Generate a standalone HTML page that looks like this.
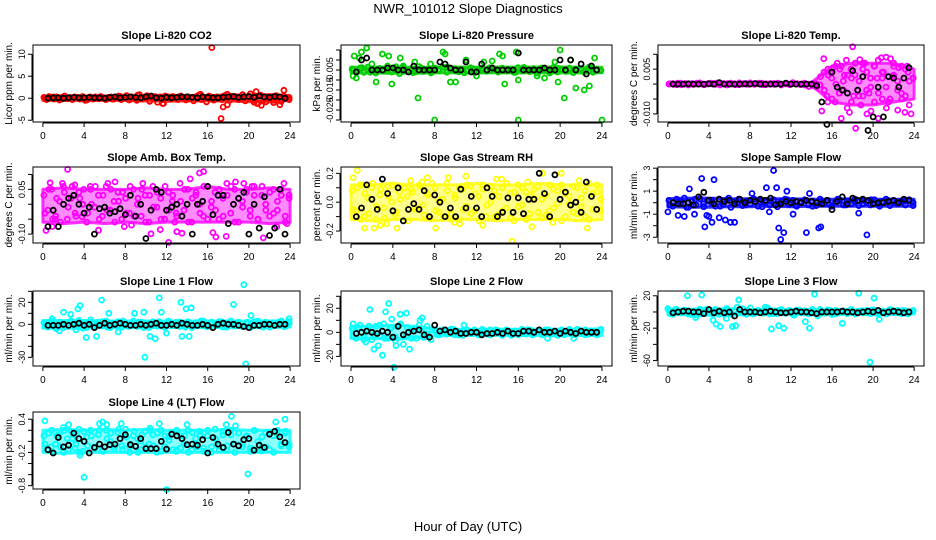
<!DOCTYPE html>
<html><head><meta charset="utf-8"><style>
html,body{margin:0;padding:0;background:#fff;}
svg{display:block;font-family:"Liberation Sans",Arial,sans-serif;}
</style></head><body>
<svg id="chart" width="936" height="540" viewBox="0 0 936 540">
<text x="468" y="13" text-anchor="middle" font-size="13">NWR_101012  Slope Diagnostics</text>
<text x="468" y="531" text-anchor="middle" font-size="13">Hour of Day (UTC)</text>
</svg>
<script>
// ---------- data ----------
const xTicks = [0,4,8,12,16,20,24];
const titles = ["Slope Li-820 CO2","Slope Li-820 Pressure","Slope Li-820 Temp.","Slope Amb. Box Temp.","Slope Gas Stream RH","Slope Sample Flow","Slope Line 1 Flow","Slope Line 2 Flow","Slope Line 3 Flow","Slope Line 4 (LT) Flow"];
const yTitles = ["Licor ppm per min.","kPa per min.","degrees C per min.","degrees C per min.","percent per min.","ml/min per min.","ml/min per min.","ml/min per min.","ml/min per min.","ml/min per min."];
const colors = ["#ff0000","#00cd00","#ff00ff","#ff00ff","#ffff00","#0000ff","#00ffff","#00ffff","#00ffff","#00ffff"];
const yLims = [[-5.4,12.1],[-0.031,0.0075],[-0.0127,0.0131],[-0.13,0.125],[-0.283,0.244],[-3.5,3.1],[-37.9,30.3],[-28,34.4],[-66.7,25.9],[-0.86,0.53]];
const yTickVals = [[-5,0,5,10],[-0.03,-0.025,-0.02,-0.015,-0.01,-0.005,0,0.005],[-0.01,-0.005,0,0.005,0.01],[-0.1,-0.05,0,0.05,0.1],[-0.2,-0.1,0,0.1,0.2],[-3,-2,-1,0,1,2,3],[-30,-20,-10,0,10,20,30],[-20,-10,0,10,20,30],[-60,-40,-20,0,20],[-0.8,-0.6,-0.4,-0.2,0,0.2,0.4]];
const yTickLabels = [["-5","0","5","10"],["","-0.025","","-0.015","","-0.005","",""],["-0.010","","","0.005",""],["-0.10","","","0.05",""],["-0.2","","0.0","","0.2"],["-3","","-1","","1","","3"],["-30","","","0","","20",""],["-20","","0","","20",""],["-60","","-20","","20"],["-0.8","","","-0.2","","","0.4"]];

// dense band envelope (every 2 h, hours 0..24): lower and upper bounds
const envHours = [0,2,4,6,8,10,12,14,16,18,20,22,24];
const envLo = [
[-0.5,-0.5,-0.5,-0.5,-0.5,-0.6,-0.7,-0.6,-0.6,-0.6,-0.8,-0.8,-0.5],
[-0.0065,-0.0065,-0.0066,-0.0066,-0.0065,-0.0064,-0.0065,-0.0064,-0.0065,-0.0064,-0.0065,-0.0065,-0.0064],
[-0.0004,-0.0004,-0.0004,-0.0004,-0.0004,-0.0004,-0.0004,-0.0005,-0.006,-0.007,-0.007,-0.006,-0.005],
[-0.06,-0.065,-0.06,-0.065,-0.06,-0.065,-0.06,-0.06,-0.06,-0.06,-0.06,-0.065,-0.06],
[-0.12,-0.13,-0.12,-0.12,-0.13,-0.12,-0.12,-0.13,-0.12,-0.12,-0.12,-0.13,-0.12],
[-0.35,-0.4,-0.4,-0.35,-0.35,-0.3,-0.35,-0.3,-0.3,-0.3,-0.3,-0.3,-0.3],
[-3.5,-3.5,-3.5,-3,-3,-3,-3,-3,-3,-3,-3,-3,-2.5],
[-5,-5,-6,-5,-3,-2.5,-2.5,-2.5,-2.5,-2.5,-2.5,-2.5,-2.5],
[-3,-3.5,-4,-4,-3,-3,-3,-3,-3,-3,-3,-3,-2.5],
[-0.2,-0.22,-0.2,-0.2,-0.2,-0.2,-0.2,-0.2,-0.2,-0.2,-0.2,-0.2,-0.2]
];
const envHi = [
[0.5,0.5,0.5,0.5,0.5,0.6,0.7,0.6,0.6,0.7,0.8,0.8,0.5],
[-0.0036,-0.0036,-0.0035,-0.0036,-0.0036,-0.0035,-0.0036,-0.0035,-0.0036,-0.0035,-0.0035,-0.0036,-0.0036],
[0.0005,0.0005,0.0005,0.0005,0.0005,0.0005,0.0005,0.0005,0.006,0.007,0.007,0.007,0.005],
[0.05,0.055,0.05,0.05,0.05,0.055,0.05,0.05,0.06,0.05,0.05,0.055,0.05],
[0.12,0.12,0.13,0.12,0.12,0.12,0.13,0.12,0.12,0.13,0.12,0.12,0.12],
[0.35,0.4,0.4,0.35,0.35,0.35,0.35,0.3,0.3,0.35,0.3,0.3,0.3],
[3.5,3.5,3.5,3,3,3,3,3,3,3,3,3,3],
[5,5,6,5,3,2.5,2.5,2.5,2.5,2.5,2.5,2.5,3],
[3,3.5,4,4,3,3,3,3,3,3,3,3,2.5],
[0.2,0.22,0.2,0.22,0.2,0.22,0.2,0.2,0.2,0.22,0.2,0.2,0.2]
];

const bandA = [
[0.2,-0.3,0.4,0.1,-0.2,0.3,-0.4,0.2,0.5,-0.1,0.1,-0.3,0.3,0.2,-0.2,0.4,-0.5,0.1,0.3,-0.2,0.2,-0.1,0.4,0.1,-0.3,0.2,0.3,-0.2,0.1,0.5,-0.3,0.2,0.6,-0.4,0.3,0.1,-0.5,0.8,-0.2,0.3,0.6,-0.7,0.2,0.4,-0.9,0.3,-1.2,0.5,0.3,-0.2,0.4,0.1,-0.3,0.5,0.2,-0.4,0.3,0.1,-0.6,0.4,0.7,-0.3,0.2,-0.8,0.5,0.1,-0.4,0.3,0.2,-0.3,0.6,0.9,-0.5,0.1,0.4,-0.2,0.3,0.8,-0.6,0.2,1.0,-0.4,0.5,-1.1,0.7,0.3,-0.8,0.4,0.2,-0.5,0.6,0.3,-0.7,0.5,0.2,-0.3],
[-0.0045,-0.0058,-0.004,-0.0062,-0.0035,-0.005,-0.0065,-0.0042,-0.0055,-0.003,-0.006,-0.0048,-0.0068,-0.0038,-0.0052,-0.0044,-0.006,-0.0033,-0.0057,-0.0047,-0.0064,-0.004,-0.0053,-0.0036,-0.0061,-0.0049,-0.0043,-0.0059,-0.0046,-0.0054,-0.0039,-0.0063,-0.0048,-0.0042,-0.0056,-0.0051,-0.0045,-0.006,-0.0041,-0.0055,-0.0049,-0.0062,-0.0038,-0.0053,-0.0047,-0.0058,-0.0043,-0.0066,-0.004,-0.0052,-0.0056,-0.0037,-0.006,-0.0046,-0.0054,-0.0041,-0.0063,-0.0049,-0.0044,-0.0057,-0.0036,-0.0061,-0.0048,-0.0052],
[0,0.0002,-0.0002,0.0003,0,-0.0003,0.0002,0,0.0004,-0.0002,0.0001,0.0003,-0.0001,0,0.0002,-0.0003,0.0003,0.0001,-0.0002,0,0.0002,0.0004,-0.0001,0.0001,0.0003,-0.0002,0,0.0002,0.0001,-0.0003,0.0002,0,0.0005,0.0001,-0.0002,0.0003,0,-0.0004,0.0001,-0.0003,0.004,-0.006,0.002,0.006,-0.003,0.001,-0.008,0.005,0.003,-0.004,0.007,-0.002,0.002,-0.006,0.008,0.004,-0.001,-0.005,0.006,0.001,-0.003,0.005,-0.007,0.002],
[0.03,-0.02,0.05,-0.04,0.01,0.06,-0.05,0.02,-0.03,0.04,0.0,-0.06,0.05,-0.01,0.03,-0.04,0.06,-0.02,0.01,0.04,-0.05,0.02,-0.03,0.05,0.0,-0.04,0.03,-0.06,0.06,-0.01,0.02,-0.05,0.04,0.01,-0.03,0.07,-0.02,0.05,-0.06,0.03,0.0,-0.04,0.06,-0.01,0.04,-0.05,0.02,0.07,-0.03,0.05,-0.06,0.01,0.04,-0.02,0.06,-0.05,0.03,0.0,-0.04,0.05,-0.02,0.03,-0.06,0.02],
[0.08,-0.06,0.12,-0.1,0.03,0.1,-0.12,0.05,-0.04,0.11,0.0,-0.09,0.07,-0.13,0.04,0.09,-0.05,0.12,-0.02,0.06,-0.11,0.1,-0.07,0.02,0.13,-0.08,0.05,-0.12,0.09,-0.03,0.11,-0.06,0.04,0.12,-0.1,0.0,0.08,-0.09,0.1,-0.04,0.06,-0.13,0.12,-0.02,0.07,-0.08,0.03,0.11,-0.11,0.05,-0.06,0.09,-0.01,0.12,-0.1,0.04,-0.07,0.1,-0.03,0.08,-0.12,0.06,-0.05,0.02],
[0.2,-0.3,0.3,-0.1,0.4,-0.4,0.1,-0.2,0.35,-0.35,0.2,0.0,-0.3,0.3,-0.15,0.25,-0.4,0.1,0.3,-0.25,0.15,-0.1,0.3,-0.3,0.2,0.05,-0.2,0.25,-0.35,0.1,0.3,-0.15,0.2,-0.3,0.1,0.25,-0.2,0.15,-0.25,0.3,-0.1,0.2,-0.3,0.1,0.25,-0.2,0.15,-0.1,0.3,-0.25,0.2,0.05,-0.2,0.25,-0.15,0.1,0.3,-0.25,0.2,-0.1,0.15,-0.2,0.25,0.0],
[1.5,-2.5,3,-1,2,-3,0.5,2.5,-2,3.5,-3.5,1,4,-2,2,-1.5,3,-3,0.5,2.5,-2.5,1.5,-1,3,-2,2,0.5,-3,2.5,-1.5,1,-2.5,3,-1,2,-2,0.5,2.5,-3,1.5,-1,3,-2,2,-0.5,2.5,-2.5,1,3,-1.5,2,-2,1.5,-3,2.5,-1,1,2,-2.5,1.5,-1,3,-2,2.5],
[3,-5,6,-4,2,-6,5,-3,7,-5,4,-7,6,-2,4,-5,3,6,-4,5,-6,1.5,-2,2,-1.5,2.5,-2,1,-2.5,2,-1,1.5,-2,2.5,-1.5,2,-1,1.5,-2.5,2,-1,1,-2,2.5,-1.5,2,-1,1.5,-2,2,-1.5,1,-2.5,2,-1,1.5,-2,2.5,-1,2,-1.5,1,-2,2.5],
[2,-3,3,-1,2.5,-2.5,1,-3.5,3.5,-1.5,2,-2,3,-3,1,2.5,-2.5,1.5,-1,4,-3,5,-2,2,-1,2.5,-2.5,1.5,-2,3,-1.5,2,-3,2.5,-1,1.5,-2.5,3,-2,1,-1.5,2.5,-3,2,-1,1.5,-2,3,-2.5,1,-1,2,-2,2.5,-1.5,1,-2.5,3,-1,2,-2,1.5,-1,2],
[0.1,-0.15,0.2,-0.05,0.15,-0.2,0.05,0.18,-0.12,0.22,-0.18,0.08,0.2,-0.1,0.12,-0.16,0.2,0.0,-0.14,0.16,-0.08,0.22,-0.2,0.1,0.05,-0.15,0.18,-0.05,0.12,-0.2,0.2,-0.1,0.08,0.15,-0.18,0.1,-0.05,0.2,-0.15,0.05,0.18,-0.12,0.1,-0.2,0.22,-0.08,0.12,-0.16,0.2,-0.05,0.15,-0.1,0.08,-0.18,0.2,0.0,-0.12,0.16,-0.15,0.1,0.2,-0.08,0.15,-0.05]
];
const bandB = [
[0.1,0.3,-0.2,0.2,0.0,-0.4,0.3,0.1,-0.2,0.4,0.2,-0.1,0.1,0.3,-0.3,0.2,0.4,-0.2,0.1,0.2,-0.4,0.3,0.5,-0.3,0.1,0.2,-0.2,0.4,-0.5,0.2],
[-0.0052,-0.0038,-0.0061,-0.0044,-0.0056,-0.0034,-0.0049,-0.0063,-0.0041,-0.0058,-0.0047,-0.0035,-0.0055,-0.0064,-0.0043,-0.0051,-0.0039,-0.0059,-0.0046,-0.0062,-0.0037,-0.0054,-0.0048,-0.0065,-0.0042,-0.0057,-0.0045,-0.006,-0.004,-0.0053],
[0.0001,-0.0001,0.0003,-0.0002,0.0002,0,-0.0001,0.0003,0.0001,-0.0002,0.0002,0,0.0003,-0.0003,0.0001,0.0002,0,-0.0002,0.0004,0.0001,-0.0001,0.0002,0,0.0003,-0.0002,0.0001,0.0002,-0.0001,0.0003,0,0.0001,-0.0002,0.0002,0.0001,0,-0.0003,-0.0008,0.0002,-0.001,0.0025,-0.002,0.003,-0.005,0.0,0.005,-0.002,0.003,-0.006,0.007,0.001,-0.004,0.004,-0.001,0.006,-0.003,0.002,0.009,-0.005,0.003,-0.002,0.006,-0.004,0.001,0.002],
[-0.03,0.05,-0.05,0.02,-0.06,0.04,-0.01,0.06,-0.04,0.02,0.05,-0.03,0.0,0.06,-0.05,0.03,-0.02,0.05,-0.06,0.01,0.04,-0.03,0.06,-0.04,0.02,0.05,-0.06,0.03,-0.01,0.04,-0.05,0.06,-0.02,0.03,-0.04,0.01,0.05,-0.06,0.02,0.04,-0.03,0.06,-0.05,0.01,-0.02,0.05,-0.04,0.03,0.06,-0.06,0.02,-0.01,0.05,-0.04,0.03,-0.05,0.06,-0.02,0.04,-0.03,0.01,0.05,-0.04,0.03],
[-0.05,0.1,-0.12,0.06,-0.08,0.13,-0.03,0.09,-0.11,0.04,0.12,-0.07,0.02,0.1,-0.13,0.07,-0.04,0.11,-0.09,0.05,0.13,-0.06,0.01,-0.1,0.08,-0.12,0.03,0.1,-0.05,0.12,-0.08,0.06,-0.13,0.09,-0.02,0.11,-0.1,0.04,-0.06,0.13,-0.11,0.07,-0.03,0.1,-0.12,0.05,0.09,-0.07,0.02,-0.09,0.12,-0.04,0.08,-0.13,0.06,-0.01,0.11,-0.08,0.03,-0.1,0.13,-0.05,0.07,-0.06],
[-0.2,0.1,-0.4,0.3,-0.1,0.2,-0.3,0.4,0.0,-0.2,0.3,-0.35,0.15,-0.1,0.25,-0.25,0.2,-0.3,0.1,-0.15,0.3,-0.2,0.1,-0.1,0.25,-0.3,0.2,-0.05,0.15,-0.25],
[-1,2,-3,1,-2,3,-0.5,1.5,-3,2,-1,2.5,-2.5,1,-1.5,3,-2,0.5,2,-3,1,-1,2.5,-2,1.5,-0.5,2,-2.5,1,-1.5,3,-2,1,-1,2.5,-2.5,0.5,1.5,-2,2,-1,3,-2.5,1,-1.5,2,-2,0.5],
[-3,4,-6,5,-2,6,-5,3,-4,7,-3,2,-5,1,-1.5,2,-2,1,-1,2.5,-2,1.5,-1,2,-1.5,1,-2,2,-1,1.5,-2.5,1,-1,2,-2,1.5,-1,2,-1.5,1,-2,2.5,-1,1.5,-2,1,-1.5,2],
[-2,3,-1,2,-3,1.5,-2.5,3,-1,2,-2,4,-3,6,-1,2,-2.5,1,-1.5,3,-2,2,-1,1.5,-2,2.5,-1,1,-2,3,-1.5,2,-2.5,1,-1,2,-2,1.5,-1,2.5,-2,1,-1.5,2,-1,2,-2.5,1],
[-0.05,0.15,-0.2,0.1,-0.1,0.2,-0.15,0.05,0.12,-0.2,0.18,-0.08,0.1,-0.12,0.2,-0.18,0.05,0.15,-0.1,0.22,-0.15,0.08,-0.05,0.18,-0.2,0.12,-0.1,0.2,-0.08,0.15,-0.18,0.1,0.02,-0.15,0.2,-0.12,0.1,-0.2,0.16,-0.05,0.12,-0.18,0.2,-0.1,0.05,-0.15,0.18,-0.08,0.12,-0.2,0.15,-0.05,0.1,-0.12,0.2,-0.16,0.08,-0.1,0.15,-0.2,0.12,-0.05,0.18,-0.1]
];
const outX = [
[16.4,17.3,17.5,17.9,20.7,20.8,21.2,23.4,23.0,22.4,11.7,20.5,15.3,9.2],
[0.3,0.5,1.5,2.4,3.0,3.9,4.7,6.4,6.1,8.0,8.8,9.5,10.0,12.0,14.2,14.7,15.8,16.0,16.0,17.8,18.5,20.0,19.8,20.4,21.5,22.3,22.8,23.3,24.0,0.2,2.0,5.0,7.6,12.7,13.5,1.0,3.6,11.0,14.5,19.5,21.0,0.8,9.0],
[15,15.2,16.5,16.9,17.4,18,18.3,18.7,19.4,19.8,20.5,20.8,21.3,21.7,22.4,23.1,23.7,16.1,17.7,19,22,23.4,16.3,20.1,15.5,18.8,21,22.8,17.2,19.6,20.4,23.9,14.8,15.8,17.9,21.9,18.5,16.7,22.5,20.9,16.9,19.2,21.5,23.3,15.6,18.1],
[0.3,0.7,2.4,3.8,5.4,7.0,8.6,10.5,12.2,13.5,14.3,15.6,16.8,17.8,20.3,21.4,23.4,0.9,1.9,4.6,6.3,9.7,11.4,13.0,15.2,18.7,22.7,1.2,3.1,7.9,12.8,16.5,19.5,23.7],
[0.2,0.6,1.3,2.8,4.4,5.7,8.1,9.3,11.0,12.6,13.9,15.4,17.3,18.3,20.1,22.6,1.1,3.4,6.8,10.4,14.4,16.9,19.3,21.8,23.5,7.3,9.9,2.2],
[0.0,1.0,1.6,2.1,2.6,3.3,3.6,4.0,4.3,4.5,5.0,5.6,6.1,6.5,9.6,10.3,10.6,10.8,11.0,11.3,11.6,12.2,13.5,14.7,14.9,18.6,19.4,3.8,8.2,13.8,9.9],
[0.9,1.6,2.0,2.7,3.4,3.6,4.2,5.2,5.7,6.4,7.3,8.9,9.8,9.9,10.4,10.9,11.3,11.5,12.0,13.4,13.5,13.9,14.2,14.4,18.5,19.5,19.7,20.2,23.9,3.2,1.3],
[0.2,1.8,2.2,2.6,3.0,3.3,3.6,4.1,4.3,4.7,5.0,5.3,5.6,6.6,6.8,7.0,10.8,18.8,21.3,1.4,3.9],
[0.0,1.9,2.7,3.3,3.7,4.4,4.7,5.1,5.7,6.3,6.6,9.7,10.1,10.8,11.3,12.3,13.4,13.8,14.3,14.6,17.0,18.6,19.7,20.1,20.6,9.5,6.9],
[0.2,1.5,2.5,3.2,3.6,4.0,5.5,5.8,6.2,8.4,9.5,10.4,11.3,12.0,14.0,15.0,17.8,18.3,18.7,19.9,20.4,22.6,23.5,2.0,7.6,13.0,21.2,0.8]
];
const outY = [
[11.5,-4.6,-2.0,-1.5,1.5,-1.2,-1.6,1.8,-1.5,-1.0,-1.2,-0.9,0.9,0.7],
[0.002,-0.009,0.006,-0.011,0.003,-0.012,0.001,-0.019,-0.001,-0.03,0.004,-0.011,-0.011,-0.008,0.003,-0.012,0.004,-0.03,-0.01,-0.008,-0.009,0.005,-0.011,-0.019,-0.014,-0.015,-0.013,0.001,-0.03,-0.008,-0.002,-0.003,-0.002,-0.001,-0.0005,0.004,0.002,0.0,0.002,-0.001,-0.0,0.001,0.003],
[-0.009,0.0085,0.007,-0.0115,0.008,0.0125,-0.0148,0.0082,-0.01,-0.009,-0.0115,0.0088,-0.008,0.0085,-0.0087,-0.0095,-0.01,0.0055,-0.0095,0.005,0.007,0.004,-0.006,0.006,-0.004,-0.007,0.004,-0.005,0.003,-0.003,0.002,0.002,-0.0003,0.004,0.002,0.0025,-0.002,-0.003,0.0055,-0.005,0.006,0.007,-0.006,0.006,0.005,-0.004],
[-0.088,0.072,0.117,-0.042,-0.087,0.075,-0.07,-0.099,-0.128,-0.097,0.085,0.11,-0.11,-0.108,0.06,-0.113,0.07,-0.075,0.07,0.06,0.07,0.07,-0.085,-0.092,0.105,0.075,-0.075,-0.05,0.065,-0.075,-0.06,-0.095,0.07,-0.065],
[0.17,0.22,-0.18,-0.16,-0.18,0.15,-0.18,0.17,0.18,-0.16,0.16,-0.27,-0.17,0.2,0.2,-0.18,0.12,-0.15,0.14,-0.15,0.16,0.14,-0.14,0.15,0.12,0.17,-0.14,-0.18],
[-0.8,-1.1,-1.2,1.2,-1.0,2.1,-2.1,-1.2,-1.7,2.0,-1.3,-1.5,-1.7,-1.7,1.3,2.8,1.3,-2.2,-3.2,-2.6,1.0,-1.0,-2.6,-2.2,-2.1,-0.9,-2.8,-1.1,0.8,0.8,-0.8],
[5,-6,11,9,14,17,-12,-11,22,10,-7,10,11,-30,-11,-13,24,11,-8,20,-11,14,-11,15,18,36,-36,8,5,-5,-4],
[7,19,-14,-11,-19,17,24,-29,-11,15,-10,16,-14,10,12,-4,6,-5,-5,-8,11],
[4,20,-7,21,-1,-10,-15,-18,-8,-18,-17,5,-21,-17,-20,-4,-12,-20,22,-5,-14,23,-62,17,-9,6,15],
[0.37,0.11,0.3,-0.05,-0.25,-0.65,0.32,0.35,0.3,-0.1,0.0,0.24,0.32,-0.87,0.3,-0.1,0.3,0.45,0.28,-0.59,-0.15,0.35,0.4,0.25,0.32,-0.15,-0.17,-0.1]
];
const blackY = [
[0,0.1,0.1,0,0.1,0.2,0.1,0.1,0.2,0.1,0.1,0,0.2,0.3,0.1,0.2,0.3,0.2,0.1,0.3,0.5,0.1,0,0.2,0.1,0.2,0.3,0.3,0.2,0.1,0.3,0.2,0.1,0.1,0.2,0.3,0.4,0.2,0.3,0.4,0.2,0.5,0.3,0.2,0.4,0.3,0],
[-0.006,0.0,0.001,-0.005,-0.005,-0.005,-0.004,-0.004,-0.005,-0.005,-0.006,-0.003,-0.005,-0.005,-0.005,-0.005,-0.001,-0.002,-0.004,-0.005,-0.005,-0.001,-0.006,-0.006,-0.002,-0.005,-0.004,-0.005,-0.005,-0.005,-0.005,0.0035,-0.005,-0.005,-0.005,-0.005,-0.004,-0.005,-0.005,0.0,-0.005,0.0,-0.005,-0.002,-0.007,-0.003,-0.005],
[0,0,0,0.0001,0,0,0,0.0001,0,0.0005,0,0,0,0,0.0001,0,0.0002,0,0,0,0,0,0.0003,0,0,0,0,0,-0.0005,-0.006,-0.0135,0.004,-0.001,-0.002,-0.003,0.0045,-0.002,0.0025,-0.0155,-0.011,-0.001,-0.011,0.0025,0.002,-0.001,0.002,0.0055],
[-0.075,-0.02,-0.075,0.0,0.02,0.03,0.0,-0.03,-0.01,-0.1,-0.015,-0.01,-0.03,-0.025,-0.015,-0.035,0.03,-0.04,0.0,-0.115,-0.02,0.05,0.04,-0.02,-0.01,0.0,-0.04,0.0,-0.1,0.0,0.01,0.06,-0.035,0.03,0.03,-0.065,0.0,0.02,0.04,-0.1,0.0,-0.08,0.025,-0.105,-0.08,0.05,-0.1],
[-0.1,-0.04,0.12,0.02,-0.05,0.16,0.06,-0.06,0.1,-0.13,-0.05,-0.01,-0.05,0.08,-0.1,0.05,0.0,-0.1,-0.04,-0.1,0.09,-0.04,0.04,-0.04,-0.1,0.1,0.04,-0.1,-0.07,0.03,-0.07,0.03,-0.08,0.02,0.02,0.2,0.06,-0.1,0.19,0.02,0.07,-0.02,0.0,-0.07,0.14,0.04,-0.05],
[0.0,-0.1,-0.1,0.0,-0.2,0.5,0.9,0.2,-0.1,0.3,0.1,0.2,-0.1,0.3,0.0,0.2,0.1,0.3,0.2,0.4,-0.2,-0.1,0.1,0.0,0.1,0.0,0.2,0.1,0.0,-0.1,0.2,-0.6,0.1,0.5,-0.1,0.4,0.2,0.3,0.2,-0.1,0.0,0.0,0.1,0.2,0.0,0.3,0.2],
[-1,-1,-1,0,-1,0,1,-1,0,-3,-1,1,-1,0,1,0,-1,-1,0,-1,0,1,-1,-1,0,-1,1,0,-1,-1,0,-1,-3,0,1,0,0,-1,-2,-3,-1,-1,0,0,-1,0,0],
[-1,0,1,0,-1,1,0,-4,5,-2,0,1,2,-2,-4,6,1,2,0,1,-1,-1,0,0,-2,-1,-1,0,-1,1,-1,-1,1,1,0,2,0,0,1,-1,1,0,-1,1,0,0,0],
[-1,0,1,1,0,0,-2,3,-1,1,-1,0,-5,3,0,0,0,-1,0,1,0,-1,-1,0,1,0,0,-1,-2,0,0,0,0,1,0,0,-1,0,1,0,2,-1,0,1,0,-1,0],
[-0.15,-0.21,0.07,-0.1,-0.07,0.15,0.05,0.0,-0.21,-0.11,-0.05,-0.1,-0.06,-0.05,0.05,0.12,-0.06,-0.09,0.05,-0.13,-0.13,-0.13,0.0,-0.14,0.13,0.10,0.05,-0.06,-0.05,-0.07,0.03,-0.21,0.07,-0.05,-0.11,0.16,-0.05,-0.08,0.03,0.05,-0.16,-0.07,-0.11,0.13,0.18,0.08,-0.02]
];
// ---------- layout ----------
const colL = [33,341,658], colR = [300,612,924];
const rowT = [45,167,291,412], rowB = [122,243,366,489];
const XMIN = -0.96, XMAX = 24.96;
const NS = "http://www.w3.org/2000/svg";
const svg = document.getElementById('chart');
function mk(tag, attrs, parent){ const e=document.createElementNS(NS,tag); for(const k in attrs) e.setAttribute(k,attrs[k]); (parent||svg).appendChild(e); return e; }

for(let p=0;p<10;p++){
  const c=p%3, r=Math.floor(p/3);
  const L=colL[c], R=colR[c], T=rowT[r], B=rowB[r];
  const sx = v => L + (v-XMIN)/(XMAX-XMIN)*(R-L);
  const sy = v => B - (v-yLims[p][0])/(yLims[p][1]-yLims[p][0])*(B-T);
  const g = mk('g',{});
  
  
  const t = mk('text',{x:(L+R)/2, y:T-6, 'text-anchor':'middle','font-size':11,'font-weight':'bold'}, g);
  t.textContent = titles[p];
  
  
  const yt = mk('text',{x:0,y:0,'text-anchor':'middle','font-size':10,transform:`translate(${L-21},${(T+B)/2}) rotate(-90)`}, g);
  yt.textContent = yTitles[p];
  
  
  // dense band envelope
  let d = '';
  envHours.forEach((h,i)=>{ d += (i?'L':'M') + sx(h).toFixed(1)+','+sy(envHi[p][i]).toFixed(1); });
  for(let i=envHours.length-1;i>=0;i--) d += 'L'+sx(envHours[i]).toFixed(1)+','+sy(envLo[p][i]).toFixed(1);
  const env = mk('path',{d:d+'Z',fill:colors[p],'fill-opacity':0.45,stroke:colors[p],'stroke-width':3,'stroke-opacity':0.8,'stroke-linejoin':'round'}, g);
  
  
  // points
  const pts = mk('g',{fill:'none','stroke-width':1.8}, g);
  
  
  const addPt = (x,y,col)=>{ const cc = mk('circle',{cx:sx(x).toFixed(1),cy:sy(y).toFixed(1),r:2.5,stroke:col}, pts);
    
     };
  const a=bandA[p], b=bandB[p];
  a.forEach((v,i)=>addPt(0.1+i*23.8/(a.length-1), v, colors[p]));
  b.forEach((v,i)=>addPt(0.2+i*23.7/(b.length-1), v, colors[p]));
  outX[p].forEach((x,i)=>addPt(x, outY[p][i], colors[p]));
  blackY[p].forEach((v,i)=>addPt(0.5+i*0.5, v, '#000'));
  // box
  const box = mk('rect',{x:L,y:T,width:R-L,height:B-T,fill:'none',stroke:'#000','stroke-width':1}, g);
  
  
  // x axis
  mk('line',{x1:sx(0),x2:sx(24),y1:B+1,y2:B+1,stroke:'#000'}, g);
  xTicks.forEach(v=>{ const X=sx(v); mk('line',{x1:X,x2:X,y1:B+1,y2:B+5,stroke:'#000'}, g);
    const tl = mk('text',{x:X,y:B+17,'text-anchor':'middle','font-size':10}, g); tl.textContent=v;
    
     });
  // y axis
  const tv=yTickVals[p];
  mk('line',{x1:L-1,x2:L-1,y1:sy(tv[0]),y2:sy(tv[tv.length-1]),stroke:'#000'}, g);
  tv.forEach((v,i)=>{ const Y=sy(v); mk('line',{x1:L-5,x2:L-1,y1:Y,y2:Y,stroke:'#000'}, g);
    const lab=yTickLabels[p][i]; if(lab){ const tl=mk('text',{x:0,y:0,'text-anchor':'middle','font-size':9,transform:`translate(${L-8},${Y}) rotate(-90)`}, g); tl.textContent=lab;
      
       } });
}
</script>
</body></html>
